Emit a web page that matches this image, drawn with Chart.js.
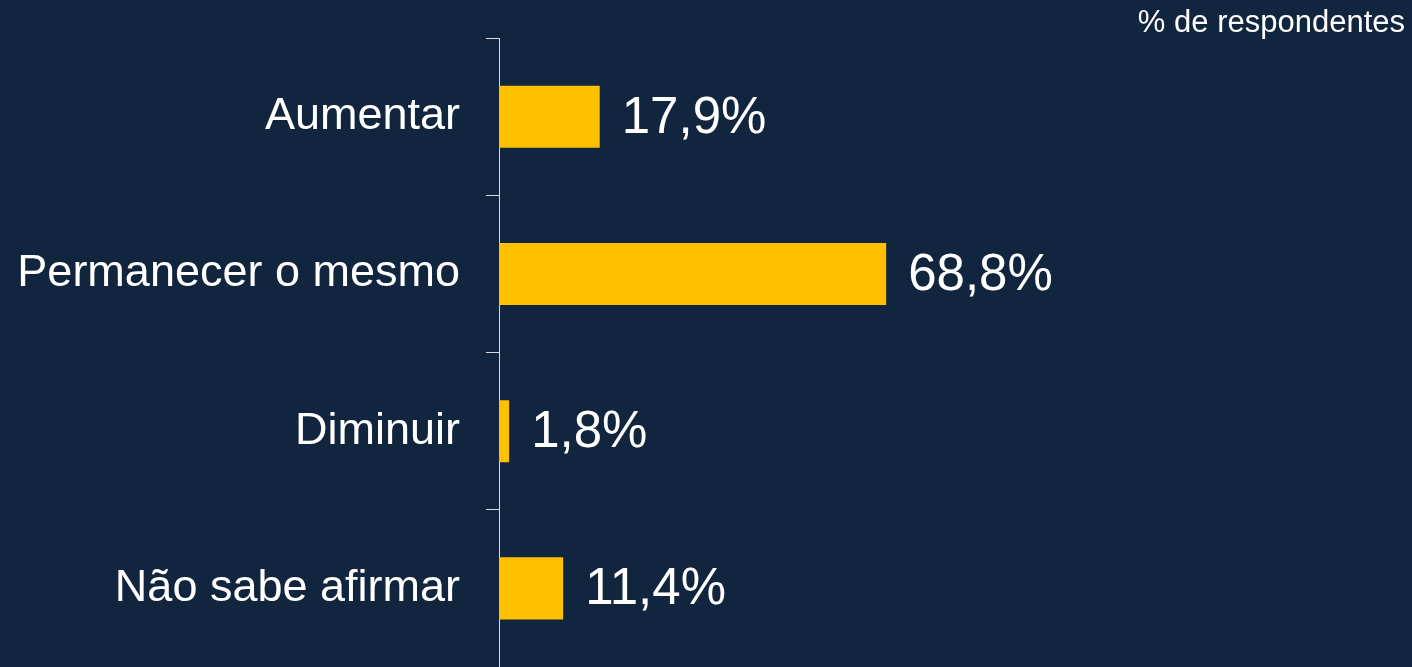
<!DOCTYPE html>
<html>
<head>
<meta charset="utf-8">
<script src="https://cdn.jsdelivr.net/npm/chart.js@4/dist/chart.umd.min.js"></script>
<style>
    html, body { margin: 0; padding: 0; background: #11253f; }
    #wrap { width: 1412px; height: 667px; }
</style>
</head>
<body>
<div id="wrap"><canvas id="respChart"></canvas></div>
<script>
// Dados do gráfico
const categories = ['Aumentar', 'Permanecer o mesmo', 'Diminuir', 'Não sabe afirmar'];
const percentages = [17.9, 68.8, 1.8, 11.4];
const unitLabel = '% de respondentes';

const FONT = "'Liberation Sans', Arial, sans-serif";

// Plugin para escrever os valores ao lado das barras
const valueLabels = {
    id: 'valueLabels',
    afterDatasetsDraw(chart) {
        const ctx = chart.ctx;
        const meta = chart.getDatasetMeta(0);
        ctx.save();
        ctx.fillStyle = '#ffffff';
        ctx.font = '51px ' + FONT;
        ctx.textAlign = 'left';
        ctx.textBaseline = 'middle';
        meta.data.forEach(function (bar, i) {
            const txt = percentages[i].toFixed(1).replace('.', ',') + '%';
            ctx.fillText(txt, bar.x + 22, bar.y + 2);
        });
        ctx.restore();
    }
};

function initRespChart() {
    const ctx = document.getElementById('respChart').getContext('2d');
    return new Chart(ctx, {
        type: 'bar',
        data: {
            labels: categories,
            datasets: [{
                data: percentages,
                backgroundColor: '#ffc000',
                borderWidth: 0,
                barPercentage: 0.395,
                categoryPercentage: 1
            }]
        },
        options: {
            indexAxis: 'y',
            responsive: true,
            maintainAspectRatio: false,
            animation: false,
            layout: { padding: { left: 0, right: 7, top: 0, bottom: 0 } },
            scales: {
                x: {
                    display: false,
                    min: 0,
                    max: 161
                },
                y: {
                    afterFit: function (scale) {
                        // largura fixa do eixo e sem folga vertical dos rótulos
                        scale.width = 499;
                        scale.paddingTop = 0;
                        scale.paddingBottom = 0;
                    },
                    border: { display: true, color: '#d9d9d9', width: 1 },
                    grid: {
                        drawOnChartArea: false,
                        drawTicks: true,
                        tickLength: 13,
                        color: '#d9d9d9',
                        lineWidth: 1
                    },
                    ticks: {
                        color: '#ffffff',
                        padding: 26,
                        font: { family: FONT, size: 45 }
                    }
                }
            },
            plugins: {
                legend: { display: false },
                tooltip: { enabled: false },
                title: {
                    display: true,
                    text: unitLabel,
                    align: 'end',
                    color: '#ffffff',
                    font: { family: FONT, size: 31, weight: 'normal', lineHeight: 1.2 },
                    padding: { top: 5, bottom: -4 }
                }
            }
        },
        plugins: [valueLabels]
    });
}

initRespChart();
</script>
</body>
</html>
